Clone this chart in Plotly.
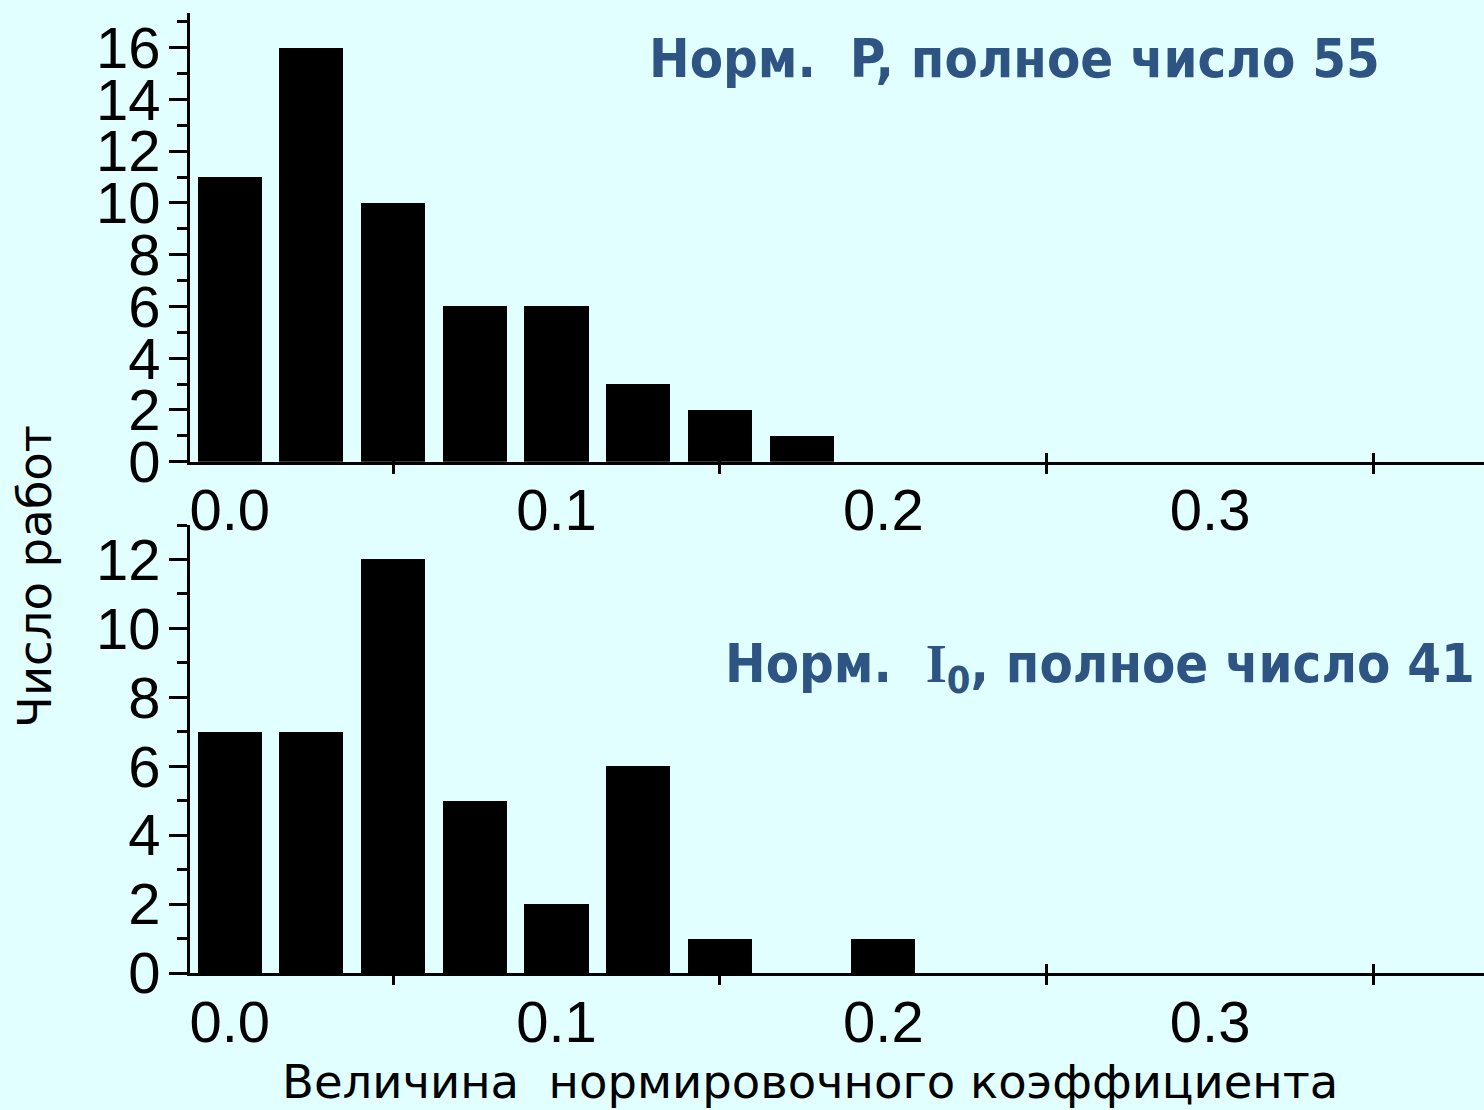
import plotly.graph_objects as go

# Data
bin_centers_top = [0.0, 0.025, 0.05, 0.075, 0.1, 0.125, 0.15, 0.175]
counts_top = [11, 16, 10, 6, 6, 3, 2, 1]
bin_centers_bot = [0.0, 0.025, 0.05, 0.075, 0.1, 0.125, 0.15, 0.175, 0.2]
counts_bot = [7, 7, 12, 5, 2, 6, 1, 0, 1]
x_label_ticks = [0.0, 0.1, 0.2, 0.3]
x_label_text = ["0.0", "0.1", "0.2", "0.3"]
x_mark_ticks = [0.05, 0.15, 0.25, 0.35]
title_top = "Норм.  P, полное число 55"
title_bot = "Норм.  <span style='font-family:Liberation Serif'>I</span><sub>0</sub>, полное число 41"
x_title = "Величина  нормировочного коэффициента"
y_title = "Число работ"

BG = "#e2ffff"
W, H = 1484, 1110
tickfont = dict(family="Liberation Sans, Arial", size=58, color="black")

fig = go.Figure()
fig.add_trace(go.Bar(x=bin_centers_top, y=counts_top, width=0.0196,
                     marker=dict(color="black", line=dict(width=0)),
                     xaxis="x", yaxis="y", showlegend=False))
fig.add_trace(go.Bar(x=bin_centers_bot, y=counts_bot, width=0.0196,
                     marker=dict(color="black", line=dict(width=0)),
                     xaxis="x2", yaxis="y2", showlegend=False))

xr = [-0.01215, 0.3838]
top_dom = [1 - 461.7 / H, 1 - 13 / H]
bot_dom = [1 - 973 / H, 1 - 525 / H]

def xaxis_main(anchor):
    return dict(range=xr, domain=[0, 1], anchor=anchor, showline=True, linecolor="black",
                linewidth=3, showgrid=False, zeroline=False, automargin=False,
                tickvals=x_label_ticks, ticktext=x_label_text, ticks="",
                tickfont=tickfont, ticklabelstandoff=-4,
                minor=dict(tickvals=x_mark_ticks, ticks="outside", ticklen=9,
                           tickwidth=3, tickcolor="black", showgrid=False))

def xaxis_inner(anchor, overlay):
    return dict(range=xr, domain=[0, 1], anchor=anchor, overlaying=overlay,
                showline=False, showgrid=False, zeroline=False, automargin=False,
                tickvals=x_mark_ticks, ticks="inside", ticklen=9, tickwidth=3,
                tickcolor="black", showticklabels=False)

def yaxis_main(dom, rng, anchor):
    return dict(domain=dom, range=rng, anchor=anchor, showline=True, linecolor="black",
                linewidth=3, showgrid=False, zeroline=False, dtick=2, tick0=0,
                automargin=False,
                ticks="outside", ticklen=18, tickwidth=3, tickcolor="black",
                tickfont=tickfont, ticklabelstandoff=-3,
                minor=dict(dtick=1, ticks="outside", ticklen=10, tickwidth=3,
                           tickcolor="black", showgrid=False))

fig.update_layout(
    width=W, height=H,
    margin=dict(l=190, r=0, t=0, b=0, autoexpand=False),
    paper_bgcolor=BG, plot_bgcolor=BG,
    bargap=0, showlegend=False,
    xaxis=xaxis_main("y"),
    xaxis2=xaxis_main("y2"),
    xaxis3=xaxis_inner("y", "x"),
    xaxis4=xaxis_inner("y2", "x2"),
    yaxis=yaxis_main(top_dom, [0, 17.34], "x"),
    yaxis2=yaxis_main(bot_dom, [0, 13.0], "x2"),
)
# empty traces so the inner tick axes are drawn
fig.add_trace(go.Scatter(x=[None], y=[None], xaxis="x3", yaxis="y", showlegend=False))
fig.add_trace(go.Scatter(x=[None], y=[None], xaxis="x4", yaxis="y2", showlegend=False))

titlefont = dict(family="DejaVu Sans Condensed, DejaVu Sans, Verdana", size=54, color="#2e5484")
fig.add_annotation(text="<b>" + title_top + "</b>", xref="paper", yref="paper",
                   x=(1014 - 190) / (W - 190), y=1 - 58 / H, showarrow=False,
                   font=titlefont, xanchor="center", yanchor="middle")
fig.add_annotation(text="<b>" + title_bot + "</b>", xref="paper", yref="paper",
                   x=(1100 - 190) / (W - 190), y=1 - 667 / H, showarrow=False,
                   font=titlefont, xanchor="center", yanchor="middle")
labfont = dict(family="DejaVu Sans, Verdana", size=46.5, color="black")
fig.add_annotation(text=x_title, xref="paper", yref="paper",
                   x=(810 - 190) / (W - 190), y=1 - 1082 / H, showarrow=False,
                   font=labfont, xanchor="center", yanchor="middle")
fig.add_annotation(text=y_title, xref="paper", yref="paper",
                   x=(35 - 190) / (W - 190), y=1 - 577 / H, showarrow=False, textangle=-90,
                   font=labfont, xanchor="center", yanchor="middle")

fig.write_html("out.html", config={"displayModeBar": False},
               post_script="document.body.style.margin='0';document.body.style.overflow='hidden';")
